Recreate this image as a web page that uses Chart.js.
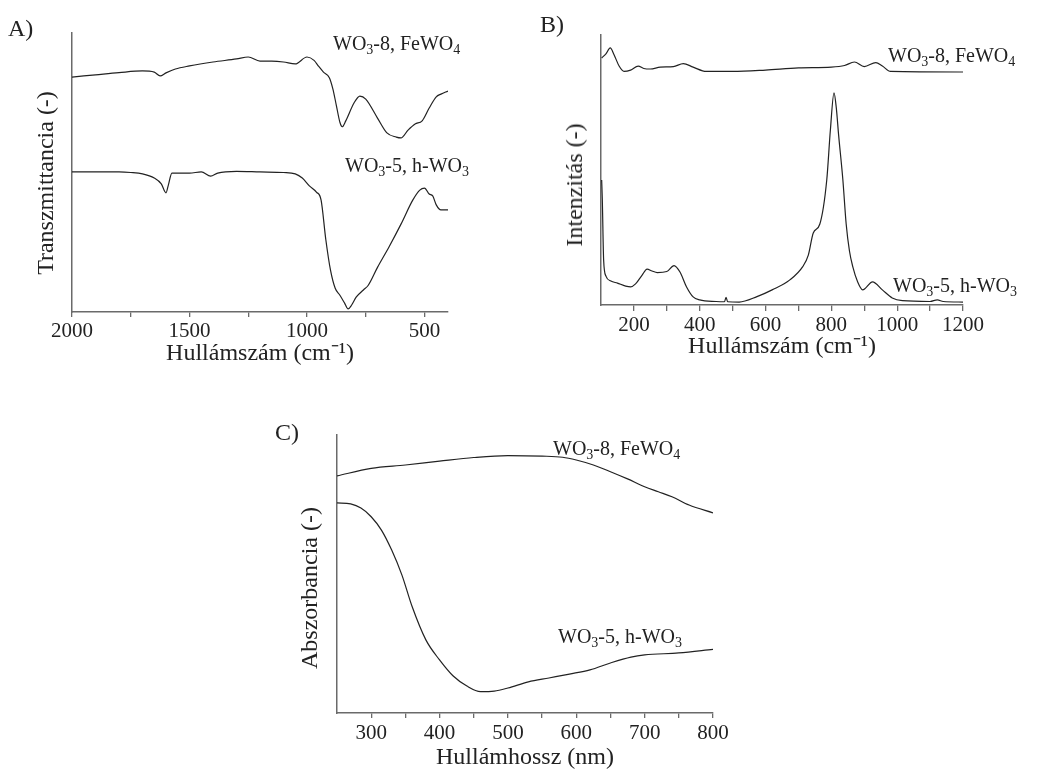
<!DOCTYPE html>
<html>
<head>
<meta charset="utf-8">
<script src="https://cdn.jsdelivr.net/npm/chart.js@4/dist/chart.umd.min.js"></script>
<style>
  html, body { margin:0; padding:0; background:#fff; width:1042px; height:769px; overflow:hidden; }
  .box { position:absolute; }
  .txt { position:absolute; font-family:"Liberation Serif","Times New Roman",serif; color:#222; white-space:nowrap; line-height:20px; font-size:20px; }
  .txt sub { font-size:0.7em; vertical-align:-0.3em; line-height:0; }
  .letter { font-size:24px; line-height:24px; }
  .ytitle { position:absolute; font-family:"Liberation Serif","Times New Roman",serif; color:#222; white-space:nowrap; font-size:24px; line-height:24px; transform:translate(-50%,-50%) rotate(-90deg); }
</style>
</head>
<body>
<div class="box" style="left:0px;top:0px;width:470px;height:380px;"><canvas id="cA"></canvas></div>
<div class="box" style="left:520px;top:0px;width:522px;height:380px;"><canvas id="cB"></canvas></div>
<div class="box" style="left:250px;top:400px;width:560px;height:380px;"><canvas id="cC"></canvas></div>

<div class="txt letter" style="left:8px;top:16px;">A)</div>
<div class="txt letter" style="left:540px;top:12px;">B)</div>
<div class="txt letter" style="left:275px;top:420px;">C)</div>

<div class="txt" style="left:333px;top:33px;">WO<sub>3</sub>-8, FeWO<sub>4</sub></div>
<div class="txt" style="left:345px;top:155px;">WO<sub>3</sub>-5, h-WO<sub>3</sub></div>
<div class="txt" style="left:888px;top:45px;">WO<sub>3</sub>-8, FeWO<sub>4</sub></div>
<div class="txt" style="left:893px;top:275px;">WO<sub>3</sub>-5, h-WO<sub>3</sub></div>
<div class="txt" style="left:553px;top:438px;">WO<sub>3</sub>-8, FeWO<sub>4</sub></div>
<div class="txt" style="left:558px;top:626px;">WO<sub>3</sub>-5, h-WO<sub>3</sub></div>

<div class="ytitle" style="left:45px;top:183px;">Transzmittancia (-)</div>
<div class="ytitle" style="left:574px;top:185px;">Intenzitás (-)</div>
<div class="ytitle" style="left:309px;top:588px;">Abszorbancia (-)</div>

<script>
// ---------- Panel A: FTIR (transmittance, arbitrary units) ----------
const aTopX = [2000,1900,1800,1700,1650,1625,1600,1560,1500,1400,1300,1250,1200,1150,1100,1050,1000,970,950,930,905,890,875,860,850,835,800,775,750,700,660,620,600,570,540,510,480,450,430,400];
const aTopY = [84.2,85,85.8,86.4,86,84.6,85.7,87.1,88.2,89.6,90.7,91.4,89.9,89.9,89.6,88.9,91.4,90.2,88,86,84,80,74,68,66.4,68.5,74.9,77.4,76.3,69.5,64.2,62.7,62.4,65.2,67.4,68.5,73.1,77.1,78.1,79.2];
const aBotX = [2000,1800,1750,1700,1650,1620,1600,1590,1575,1500,1450,1410,1380,1300,1200,1100,1050,1020,990,960,940,920,900,880,860,840,825,810,790,760,740,700,650,600,550,520,500,480,465,450,430,400];
const aBotY = [50.2,50.2,50,49.5,48,45.9,42.7,45.5,49.8,49.8,50.2,48.7,49.8,50.4,50.2,50,49.5,48,45.2,43,40.1,26,15,8.5,6,3.2,1.1,2.5,5.4,7.9,9.5,16,23.5,31.5,40.1,43.7,44.4,42.3,41.6,38.4,36.6,36.6];
const aTicks = [500,750,1000,1250,1500,1750,2000];
const aTickLabels = [500,1000,1500,2000];

// ---------- Panel B: Raman (intensity, arbitrary units) ----------
const bTopX = [102,115,128,140,155,170,190,213,230,250,280,320,350,380,420,500,600,700,800,840,870,900,935,955,980,1200];
const bTopY = [91.5,93,95.2,92.6,88.5,86.5,87,88.5,87.6,87.4,88.1,88.3,89.4,88.1,86.5,86.5,87,87.8,88.1,88.7,90,88.3,89.8,88.5,86.5,86.3];
const bBotX = [102,104,108,115,130,150,175,190,205,225,240,255,271,300,322,340,360,380,400,450,475,480,485,520,574,620,674,713,730,745,765,786,797,808,815,822,835,845,855,865,880,895,925,955,985,1016,1100,1122,1140,1200];
const bBotY = [46.3,38.9,16.7,10.7,8.9,8.1,7,6.7,7.8,11.1,13.3,12.6,12,12.4,14.6,12.2,6.7,3,1.9,1.3,1.2,2.8,1.2,1.1,3.1,5.6,9.3,14.2,18.5,26.7,30,46.3,64.8,78.6,73,63,46.3,30,20,14.2,8.5,5.6,8.6,5.6,2.6,1.6,1.3,1.9,1.3,1.1];
const bTicks = [200,300,400,500,600,700,800,900,1000,1100,1200];
const bTickLabels = [200,400,600,800,1000,1200];

// ---------- Panel C: UV-Vis (absorbance, arbitrary units) ----------
const cTopX = [250,300,350,400,450,500,550,580,600,625,650,675,700,720,740,765,800];
const cTopY = [85.3,88,89.2,90.6,91.9,92.6,92.4,92,91,89.2,86.8,84.2,81.4,79.6,77.8,74.8,72];
const cBotX = [250,270,285,300,315,330,345,360,380,400,420,440,460,480,500,530,560,590,620,650,680,700,750,800];
const cBotY = [75.6,75.2,73.7,70.6,65.8,58.6,49.6,38.2,26.3,19.1,13.3,9.7,7.7,7.9,9,11.2,12.6,14,15.5,18,20.1,20.9,21.6,22.9];
const cTicks = [300,350,400,450,500,550,600,650,700,750,800];
const cTickLabels = [300,400,500,600,700,800];

const FONT = '"Liberation Serif", "Times New Roman", serif';
const AXIS = '#6a6a6a';
const LINE = '#222';

function pts(xs, ys) { return xs.map((x, i) => ({ x: x, y: ys[i] })); }

function makePanel(id, p) {
  const canvas = document.getElementById(id);
  const H = canvas.parentNode.clientHeight;
  const W = canvas.parentNode.clientWidth;
  const ds = (data) => ({
    data: data, borderColor: LINE, borderWidth: 1.2, pointRadius: 0,
    fill: false, cubicInterpolationMode: 'monotone'
  });
  return new Chart(canvas, {
    type: 'line',
    data: { datasets: [ds(pts(p.x1, p.y1)), ds(pts(p.x2, p.y2))] },
    options: {
      responsive: true, maintainAspectRatio: false, animation: false,
      devicePixelRatio: 1,
      layout: { padding: { top: p.top, right: W - p.right, left: 0, bottom: 0 } },
      plugins: { legend: { display: false }, tooltip: { enabled: false } },
      scales: {
        x: {
          type: 'linear', min: p.min, max: p.max, reverse: !!p.reverse,
          afterBuildTicks: (s) => { s.ticks = p.ticks.map(v => ({ value: v })); },
          afterFit: (s) => { s.height = H - p.bottom; },
          ticks: {
            autoSkip: false, maxRotation: 0, padding: p.tickPad,
            color: '#222', font: { family: FONT, size: 21 },
            callback: (v) => p.labels.includes(v) ? String(v) : ''
          },
          grid: { drawOnChartArea: false, drawTicks: true, tickLength: p.tickLen, color: AXIS, lineWidth: 1.3 },
          border: { display: true, color: AXIS, width: 1.5 },
          title: { display: true, text: p.xTitle, color: '#222', font: { family: FONT, size: 24 }, padding: { top: p.titlePad, bottom: p.titlePad } }
        },
        y: {
          min: 0, max: 100,
          afterFit: (s) => { s.width = p.left; },
          ticks: { display: false },
          grid: { display: false },
          border: { display: true, color: AXIS, width: 1.5 }
        }
      }
    }
  });
}

makePanel('cA', {
  x1: aTopX, y1: aTopY, x2: aBotX, y2: aBotY,
  min: 400, max: 2000, reverse: true, ticks: aTicks, labels: aTickLabels,
  left: 72, right: 448, top: 33, bottom: 312, tickLen: 5, tickPad: 1.5, titlePad: 11.5,
  xTitle: 'Hullámszám (cm⁻¹)'
});
makePanel('cB', {
  x1: bTopX, y1: bTopY, x2: bBotX, y2: bBotY,
  min: 100, max: 1200, ticks: bTicks, labels: bTickLabels,
  left: 81, right: 443, top: 35, bottom: 305, tickLen: 6, tickPad: 1.5, titlePad: 18.5,
  xTitle: 'Hullámszám (cm⁻¹)'
});
makePanel('cC', {
  x1: cTopX, y1: cTopY, x2: cBotX, y2: cBotY,
  min: 250, max: 800, ticks: cTicks, labels: cTickLabels,
  left: 87, right: 463, top: 35, bottom: 313, tickLen: 5, tickPad: 2.5, titlePad: 7.5,
  xTitle: 'Hullámhossz (nm)'
});
</script>
</body>
</html>
